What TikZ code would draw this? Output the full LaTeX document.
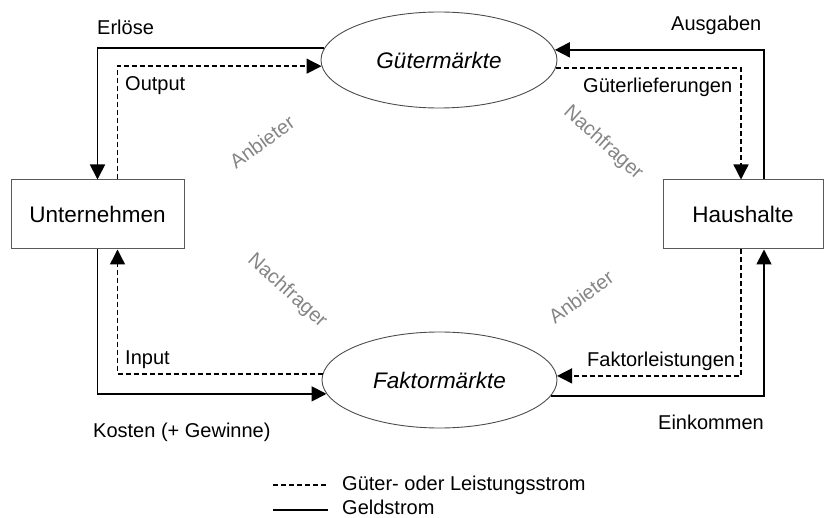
\documentclass[tikz,border=0pt]{standalone}
\usepackage{fontspec}
\setmainfont{Liberation Sans}
\usetikzlibrary{arrows.meta,shapes.geometric}
\begin{document}
\begin{tikzpicture}[x=1pt,y=-1pt,
  lbl/.style={font=\fontsize{20}{24}\selectfont, inner sep=0pt, anchor=base west},
  big/.style={font=\fontsize{22.5}{27}\selectfont},
  agent/.style={draw=black!65, line width=1pt, rectangle, big, inner sep=0pt},
  market/.style={draw=black!70, line width=0.9pt, ellipse, inner sep=0pt,
                 font=\fontsize{22.5}{27}\selectfont\itshape},
  role/.style={font=\fontsize{20}{24}\selectfont, text=black!48, inner sep=0pt},
  money/.style={line width=1.8pt, -{Triangle[length=15pt,width=15pt]}},
  goods/.style={line width=1.4pt, dash pattern=on 5pt off 3pt, -{Triangle[length=15pt,width=15pt]}},
  legmoney/.style={line width=1.8pt},
  leggoods/.style={line width=1.4pt, dash pattern=on 5pt off 3pt}]
\useasboundingbox (0,0) rectangle (824,518);

% agents
\node[agent, minimum width=173pt, minimum height=69pt] (U) at (97.5,214.5) {Unternehmen};
\node[agent, minimum width=160pt, minimum height=69pt] (H) at (743,214.5) {Haushalte};

% markets
\node[market, minimum width=236pt, minimum height=96pt] (G) at (439,60) {Gütermärkte};
\node[market, minimum width=235pt, minimum height=96pt] (F) at (439.5,380) {Faktormärkte};

% flows, top
\draw[money] (G.174.5) -| (U.north);
\draw[goods] ([xshift=20pt]U.north) |- (G.183.4);
\draw[money] ([xshift=21pt]H.north) |- (G.5.46);
\draw[goods] (G.356.6) -| ([xshift=-2pt]H.north);

% flows, bottom
\draw[goods] (F.177.05) -| ([xshift=20pt]U.south);
\draw[money] (U.south) |- (F.187.66);
\draw[goods] ([xshift=-2pt]H.south) |- (F.2.95);
\draw[money] (F.352.34) -| ([xshift=21pt]H.south);

% flow labels
\node[lbl] (l1) at (97,34.5) {Erlöse};
\node[lbl] (l2) at (125,91) {Output};
\node[lbl] (l3) at (671,31) {Ausgaben};
\node[lbl] (l4) at (583,92.5) {Güterlieferungen};
\node[lbl] (l5) at (125,364) {Input};
\node[lbl] (l6) at (587,366) {Faktorleistungen};
\node[lbl] (l7) at (93,437.5) {Kosten (+ Gewinne)};
\node[lbl] (l8) at (658,429) {Einkommen};

% roles
\node[role, rotate=36] (r1) at (262,142) {Anbieter};
\node[role, rotate=-42] (r2) at (603,143) {Nachfrager};
\node[role, rotate=-42] (r3) at (287,291) {Nachfrager};
\node[role, rotate=36] (r4) at (581,297) {Anbieter};

% legend
\coordinate (a1) at (273,485);
\coordinate (a2) at (328,485);
\coordinate (b1) at (273,510);
\coordinate (b2) at (328,510);
\draw[leggoods] (a1) -- (a2);
\draw[legmoney] (b1) -- (b2);
\node[lbl] (t1) at (342,490) {Güter- oder Leistungsstrom};
\node[lbl] (t2) at (342,514.5) {Geldstrom};
\end{tikzpicture}
\end{document}
